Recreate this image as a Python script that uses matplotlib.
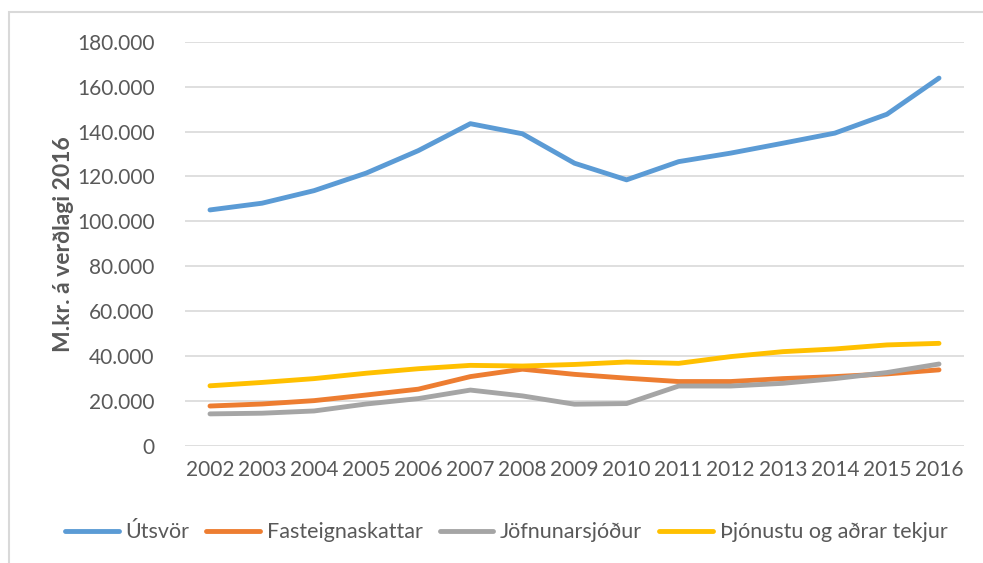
import matplotlib
matplotlib.use("Agg")
import matplotlib.pyplot as plt
from matplotlib.patches import Rectangle
from matplotlib.ticker import FuncFormatter

years = list(range(2002, 2017))
utsvor = [105100, 108100, 113700, 121500, 131500, 143500, 139000, 125900, 118500,
          126600, 130400, 134800, 139300, 147700, 163800]
fasteignaskattar = [17800, 18700, 20200, 22700, 25300, 30900, 34200, 31900, 30200,
                    28700, 28700, 30000, 30900, 32100, 33900]
jofnunarsjodur = [14300, 14600, 15600, 18700, 21100, 24900, 22300, 18600, 18900,
                  26700, 26700, 27900, 30000, 32700, 36500]
thjonustu = [26800, 28300, 30000, 32400, 34400, 35900, 35600, 36300, 37400,
             36800, 39800, 42000, 43200, 45000, 45700]
series_names = ["Útsvör", "Fasteignaskattar", "Jöfnunarsjóður", "Þjónustu og aðrar tekjur"]
yticks = [0, 20000, 40000, 60000, 80000, 100000, 120000, 140000, 160000, 180000]

colors = ["#5B9BD5", "#ED7D31", "#A5A5A5", "#FFC000"]
txt = "#595959"
plt.rcParams['font.family'] = ['Lato', 'DejaVu Sans']

W, H = 983, 563
fig = plt.figure(figsize=(W/100, H/100), dpi=100)
fig.patch.set_facecolor("white")
ax = fig.add_axes([185/W, 1-446/H, (964-185)/W, (446-41.7)/H])

for vals, c, n in zip([utsvor, fasteignaskattar, jofnunarsjodur, thjonustu], colors, series_names):
    ax.plot(years, vals, color=c, lw=3.5, label=n, solid_capstyle='round', solid_joinstyle='round')

ax.set_xlim(2001.52, 2016.48)
ax.set_ylim(0, 180000)
ax.set_yticks(yticks)
ax.yaxis.set_major_formatter(FuncFormatter(lambda v, p: "0" if v == 0 else f"{int(v):,}".replace(",", ".")))
ax.set_xticks(years)
ax.grid(axis='y', color="#D9D9D9", lw=1.2)
ax.set_axisbelow(True)
for s in ax.spines.values():
    s.set_visible(False)
ax.tick_params(axis='both', length=0, labelsize=15, colors=txt)
ax.tick_params(axis='y', pad=22)
ax.tick_params(axis='x', pad=10)
ax.set_ylabel("M.kr. á verðlagi 2016", fontsize=16.5, fontweight='bold', color=txt, labelpad=2)

leg = fig.legend(loc='center', bbox_to_anchor=(506/W, 1-532.5/H), ncol=4, frameon=False,
                 fontsize=15.5, handlelength=2.5, columnspacing=0.8, handletextpad=0.3,
                 labelcolor=txt)

fig.patches.append(Rectangle((9/W, -0.1), 1.2, 1.1 - 12/H + 0.0, transform=fig.transFigure,
                             fill=False, edgecolor="#D9D9D9", lw=1.5))
fig.savefig("out.png", dpi=100)
